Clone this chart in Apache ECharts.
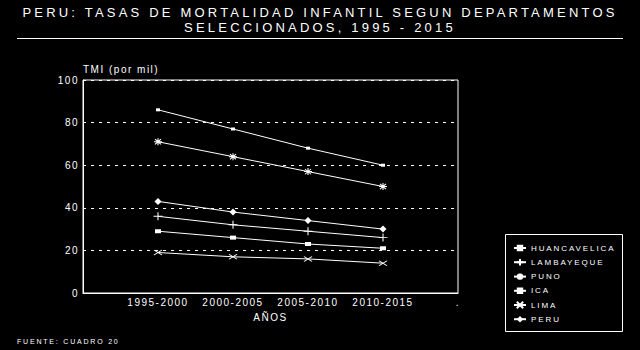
<!DOCTYPE html>
<html>
<head>
<meta charset="utf-8">
<script src="https://cdn.jsdelivr.net/npm/echarts@6/dist/echarts.min.js"></script>
<style>
html,body{margin:0;padding:0;background:#000;}
#chart{width:640px;height:350px;}
</style>
</head>
<body>
<div id="chart"></div>
<script>
const periods = ['1995-2000', '2000-2005', '2005-2010', '2010-2015'];
const huancavelica = [86, 77, 68, 60];
const lambayeque = [36, 32, 29, 26];
const puno = [71, 64, 57, 50];
const ica = [29, 26, 23, 21];
const lima = [19, 17, 16, 14];
const peru = [43, 38, 34, 30];
const seriesNames = ['HUANCAVELICA', 'LAMBAYEQUE', 'PUNO', 'ICA', 'LIMA', 'PERU'];
const yTicks = [0, 20, 40, 60, 80, 100];

const FONT = 'Liberation Sans';
const W = '#ffffff';

const markers = {
  HUANCAVELICA: { symbol: 'rect', size: [4, 3], border: 0 },
  LAMBAYEQUE: { symbol: 'path://M0,4H8M4,0V8', size: [9, 8], border: 1 },
  PUNO: { symbol: 'path://M0,4H8M4,0V8M1,1L7,7M1,7L7,1', size: [8, 7], border: 1 },
  ICA: { symbol: 'rect', size: [6, 4], border: 0 },
  LIMA: { symbol: 'path://M0,0L8,5M0,5L8,0', size: [8, 5], border: 1 },
  PERU: { symbol: 'diamond', size: [7, 7], border: 0 }
};
const values = [huancavelica, lambayeque, puno, ica, lima, peru];

const chart = echarts.init(document.getElementById('chart'), null, { renderer: 'svg' });

const option = {
  backgroundColor: '#000',
  animation: false,
  title: [
    {
      text: 'PERU: TASAS DE MORTALIDAD INFANTIL SEGUN DEPARTAMENTOS\nSELECCIONADOS, 1995 - 2015',
      left: 'center', top: 5.5, padding: 0,
      textStyle: { color: W, fontSize: 13, fontWeight: 'normal', fontFamily: FONT, lineHeight: 14.5 }
    },
    {
      text: 'TMI (por mil)', left: 83, top: 64, padding: 0,
      textStyle: { color: W, fontSize: 10, fontWeight: 'normal', fontFamily: FONT }
    },
    {
      text: 'FUENTE: CUADRO 20', left: 17, top: 337.5, padding: 0,
      textStyle: { color: W, fontSize: 7, fontWeight: 'normal', fontFamily: FONT }
    }
  ],
  grid: {
    left: 83, right: 182, top: 80, bottom: 57,
    show: true, borderColor: W, borderWidth: 1,
    outerBoundsMode: 'none'
  },
  legend: {
    orient: 'vertical', left: 513, top: 244, padding: 0,
    itemWidth: 12, itemHeight: 8, itemGap: 6,
    data: seriesNames,
    textStyle: { color: W, fontSize: 8, fontFamily: FONT },
    inactiveColor: '#666'
  },
  xAxis: {
    type: 'category',
    data: [''].concat(periods).concat(['.']),
    boundaryGap: false,
    name: 'AÑOS', nameLocation: 'middle', nameGap: 19,
    nameTextStyle: { color: W, fontSize: 10, fontFamily: FONT },
    axisLine: { lineStyle: { color: W, width: 1 } },
    axisTick: { show: false },
    axisLabel: { color: W, fontSize: 10, fontFamily: FONT, margin: 4, interval: 0 },
    splitLine: { show: false }
  },
  yAxis: {
    type: 'value',
    min: yTicks[0], max: yTicks[yTicks.length - 1], interval: yTicks[1] - yTicks[0],
    axisLine: { show: true, lineStyle: { color: W, width: 1 } },
    axisTick: { show: false },
    axisLabel: { color: W, fontSize: 10, fontFamily: FONT, margin: 4 },
    splitLine: { show: true, lineStyle: { color: W, width: 1, type: [3, 5] } }
  },
  series: seriesNames.map((name, i) => ({
    name: name,
    type: 'line',
    data: [null].concat(values[i]),
    symbol: markers[name].symbol,
    symbolSize: markers[name].size,
    showAllSymbol: true,
    lineStyle: { color: W, width: 1 },
    itemStyle: { color: W, borderColor: W, borderWidth: markers[name].border },
    emphasis: { disabled: true }
  })),
  graphic: [
    { type: 'line', shape: { x1: 17, y1: 38.5, x2: 623, y2: 38.5 }, style: { stroke: W, lineWidth: 1 } },
    { type: 'rect', shape: { x: 505.5, y: 234.5, width: 117, height: 97 }, style: { stroke: W, fill: 'none', lineWidth: 1 } }
  ]
};
chart.setOption(option);

function spaceText() {
  const map = { 13: 3.2, 10: 1.5, 8: 1.9, 7: 1.8 };
  document.querySelectorAll('#chart text').forEach(el => {
    const fs = Math.round(parseFloat(getComputedStyle(el).fontSize));
    if (map[fs] != null) el.style.letterSpacing = map[fs] + 'px';
  });
}
spaceText();
chart.on('finished', spaceText);
setTimeout(spaceText, 0);
</script>
</body>
</html>
